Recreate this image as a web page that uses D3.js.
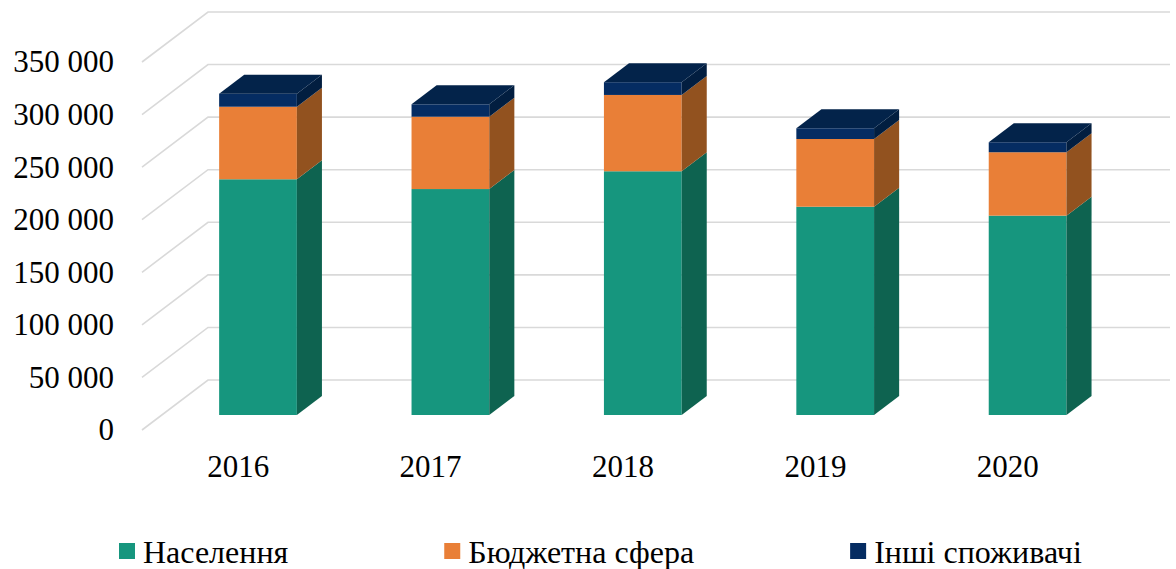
<!DOCTYPE html>
<html>
  <head>
    <meta charset="utf-8">
    <script src="https://cdn.jsdelivr.net/npm/d3@7"></script>
    <style>
      body { margin: 0; background: #fff; }
    </style>
  </head>
  <body>
    <div id="chart"></div>
    <script>
      // data
      const years = ["2016", "2017", "2018", "2019", "2020"];
      const naselennia = [224200, 214900, 231800, 198100, 189600];
      const biudzhetna = [69000, 68800, 72600, 64400, 60300];
      const inshi = [12400, 11800, 12100, 10200, 9500];
      const yTicks = [0, 50000, 100000, 150000, 200000, 250000, 300000, 350000];
      const seriesNames = ["Населення", "Бюджетна сфера", "Інші споживачі"];

      const W = 1176, H = 569;
      const serif = '"Liberation Serif", Tinos, "Times New Roman", "Noto Serif", "DejaVu Serif", FreeSerif, serif';
      // colours: front, side, top
      const colors = [
        {front: "#16967e", side: "#0e6350", top: "#0f6f5a"},
        {front: "#e97f37", side: "#92521f", top: "#b8662c"},
        {front: "#052c62", side: "#021e40", top: "#03234a"}
      ];

      const rows = years.map((y, i) => ({year: y, a: naselennia[i], b: biudzhetna[i], c: inshi[i]}));
      const stacked = d3.stack().keys(["a", "b", "c"])(rows);

      const svg = d3.select("#chart").append("svg")
        .attr("width", W).attr("height", H)
        .style("font-family", serif);

      // back wall scales
      const x = d3.scaleBand().domain(years).range([208, 1170]);
      const y = d3.scaleLinear().domain([0, 350000]).range([380, 12]);
      // depth: 0 = back wall, 1 = front edge
      const dx = d3.scaleLinear().domain([0, 1]).range([0, -66]);
      const dy = d3.scaleLinear().domain([0, 1]).range([0, 50]);

      // gridlines (side wall diagonal + back wall)
      svg.append("g").selectAll("path").data(yTicks).join("path")
        .attr("d", v => `M${x.range()[0] + dx(1)},${y(v) + dy(1)}L${x.range()[0]},${y(v)}L${x.range()[1]},${y(v)}`)
        .attr("fill", "none")
        .attr("stroke", "#d9d9d9")
        .attr("stroke-width", 1.6);

      // y axis labels on the front plane
      const yFront = y.copy().range(y.range().map(r => r + dy(1)));
      svg.append("g")
        .attr("transform", "translate(114,0)")
        .call(d3.axisLeft(yFront).tickValues(yTicks).tickSize(0).tickPadding(0)
          .tickFormat(v => d3.format(",")(v).replace(/,/g, " ")))
        .call(g => g.select(".domain").remove())
        .selectAll("text")
          .style("font-family", serif)
          .style("font-size", "31px")
          .attr("fill", "#000");

      // x axis labels on the front plane
      const xFront = x.copy().range(x.range().map(r => r + dx(1)));
      svg.append("g")
        .attr("transform", "translate(0,455)")
        .call(d3.axisBottom(xFront).tickSize(0).tickPadding(0))
        .call(g => g.select(".domain").remove())
        .selectAll("text")
          .style("font-family", serif)
          .style("font-size", "31px")
          .attr("fill", "#000");

      // 3D bars
      const barW = x.bandwidth() * 0.404;
      const dFront = 0.7, dBack = 0.32;
      const bars = svg.append("g");

      stacked.forEach((layer, li) => {
        const c = colors[li];
        layer.forEach((seg, i) => {
          const x0 = x(years[i]) + (x.bandwidth() - barW) / 2;
          const x1 = x0 + barW;
          const v0 = seg[0], v1 = seg[1];
          const P = (xx, v, d) => [xx + dx(d), y(v) + dy(d)];
          const g = bars.append("g");
          // front face
          const fTL = P(x0, v1, dFront), fBR = P(x1, v0, dFront);
          g.append("rect")
            .attr("x", fTL[0]).attr("y", fTL[1])
            .attr("width", fBR[0] - fTL[0]).attr("height", fBR[1] - fTL[1])
            .attr("fill", c.front);
          // right side face
          g.append("polygon")
            .attr("points", [P(x1, v0, dFront), P(x1, v1, dFront), P(x1, v1, dBack), P(x1, v0, dBack)].map(p => p.join(",")).join(" "))
            .attr("fill", c.side);
          // top face only for top of stack
          if (li === stacked.length - 1) {
            g.append("polygon")
              .attr("points", [P(x0, v1, dFront), P(x1, v1, dFront), P(x1, v1, dBack), P(x0, v1, dBack)].map(p => p.join(",")).join(" "))
              .attr("fill", c.top);
          }
        });
      });

      // legend
      const legend = svg.append("g").attr("transform", "translate(0,543)");
      let cursor = 119;
      seriesNames.forEach((name, i) => {
        const item = legend.append("g").attr("transform", `translate(${cursor},0)`);
        item.append("rect").attr("width", 16).attr("height", 16).attr("fill", colors[i].front);
        const t = item.append("text")
          .attr("x", 24).attr("y", 20)
          .style("font-family", serif)
          .style("font-size", "32px")
          .attr("fill", "#000")
          .text(name);
        cursor += 24 + t.node().getComputedTextLength() + 156;
      });
    </script>
  </body>
</html>
